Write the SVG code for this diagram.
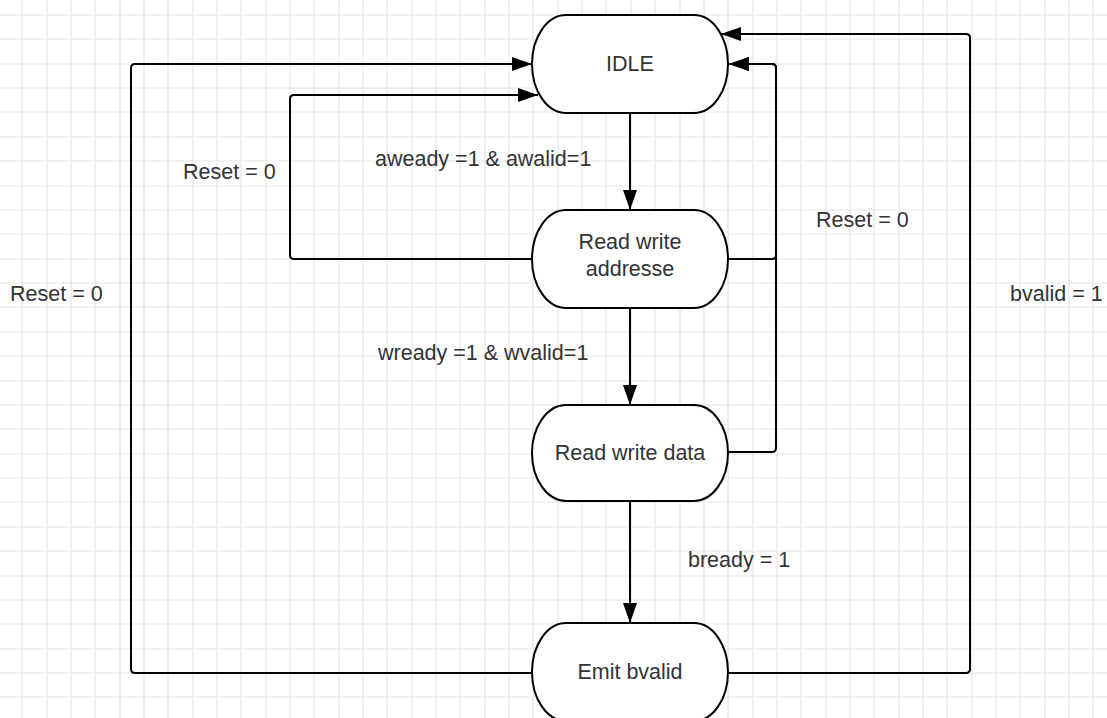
<svg xmlns="http://www.w3.org/2000/svg" width="1107" height="718" viewBox="0 0 1107 718">
  <style>
    .grid { fill: none; stroke: #e5e5e5; stroke-width: 1.2; }
    .node { fill: #ffffff; stroke: #000000; stroke-width: 2; }
    .ntext { font-family: "Liberation Sans", Arial, sans-serif; font-size: 21.5px; fill: #333333; text-anchor: middle; }
    .label { font-family: "Liberation Sans", Arial, sans-serif; font-size: 21.5px; fill: #333333; }
    .conn { fill: none; stroke: #000000; stroke-width: 2; }
    .arrow { marker-end: url(#arrowhead); }
  </style>
  <defs>
    <marker id="arrowhead" markerUnits="userSpaceOnUse" markerWidth="20" markerHeight="14" refX="20" refY="7" orient="auto">
      <path d="M0,0 L20,7 L0,14 z" fill="#000000"/>
    </marker>
  </defs>
  <rect x="0" y="0" width="1107" height="718" fill="#ffffff"/>
  <path class="grid" d="M22,0V718 M47,0V718 M71,0V718 M95,0V718 M120,0V718 M144,0V718 M168,0V718 M193,0V718 M217,0V718 M241,0V718 M266,0V718 M290,0V718 M314,0V718 M339,0V718 M363,0V718 M387,0V718 M412,0V718 M436,0V718 M460,0V718 M485,0V718 M509,0V718 M533,0V718 M558,0V718 M582,0V718 M606,0V718 M631,0V718 M655,0V718 M680,0V718 M704,0V718 M728,0V718 M753,0V718 M777,0V718 M801,0V718 M826,0V718 M850,0V718 M874,0V718 M899,0V718 M923,0V718 M947,0V718 M972,0V718 M996,0V718 M1020,0V718 M1045,0V718 M1069,0V718 M1093,0V718
  M0,15H1107 M0,39H1107 M0,64H1107 M0,88H1107 M0,112H1107 M0,137H1107 M0,161H1107 M0,186H1107 M0,210H1107 M0,234H1107 M0,259H1107 M0,283H1107 M0,307H1107 M0,332H1107 M0,356H1107 M0,381H1107 M0,405H1107 M0,429H1107 M0,454H1107 M0,478H1107 M0,502H1107 M0,527H1107 M0,551H1107 M0,576H1107 M0,600H1107 M0,624H1107 M0,649H1107 M0,673H1107 M0,697H1107"/>

  <g id="connectors">
    <path class="conn arrow" d="M630,113 V210"/>
    <path class="conn arrow" d="M630,308 V405"/>
    <path class="conn arrow" d="M630,501 V623"/>
    <path class="conn arrow" d="M532,259 H294 Q290,259 290,255 V99 Q290,95 294,95 H538"/>
    <path class="conn arrow" d="M532,673 H135 Q131,673 131,669 V68 Q131,64 135,64 H532"/>
    <path class="conn arrow" d="M728,452 H772 Q776,452 776,448 V68 Q776,64 772,64 H729"/>
    <path class="conn arrow" d="M728,259 H772 Q776,259 776,255 V68 Q776,64 772,64 H729"/>
    <path class="conn arrow" d="M728,673 H966 Q970,673 970,669 V38 Q970,34 966,34 H721"/>
  </g>

  <g id="labels">
    <text class="label" x="375" y="166">aweady =1 &amp; awalid=1</text>
    <text class="label" x="183" y="179">Reset = 0</text>
    <text class="label" x="816" y="227">Reset = 0</text>
    <text class="label" x="10" y="301">Reset = 0</text>
    <text class="label" x="1010" y="301">bvalid = 1</text>
    <text class="label" x="378" y="360">wready =1 &amp; wvalid=1</text>
    <text class="label" x="688" y="567">bready = 1</text>
  </g>

  <g id="node-idle">
    <rect class="node" x="532" y="15" width="196" height="98" rx="34" ry="49"/>
    <text class="ntext" x="630" y="71">IDLE</text>
  </g>
  <g id="node-read-write-addresse">
    <rect class="node" x="532" y="210" width="196" height="98" rx="34" ry="49"/>
    <text class="ntext" x="630" y="249">Read write</text>
    <text class="ntext" x="630" y="276">addresse</text>
  </g>
  <g id="node-read-write-data">
    <rect class="node" x="532" y="405" width="196" height="96" rx="34" ry="48"/>
    <text class="ntext" x="630" y="460">Read write data</text>
  </g>
  <g id="node-emit-bvalid">
    <rect class="node" x="532" y="623" width="196" height="98" rx="34" ry="49"/>
    <text class="ntext" x="630" y="679">Emit bvalid</text>
  </g>
</svg>
